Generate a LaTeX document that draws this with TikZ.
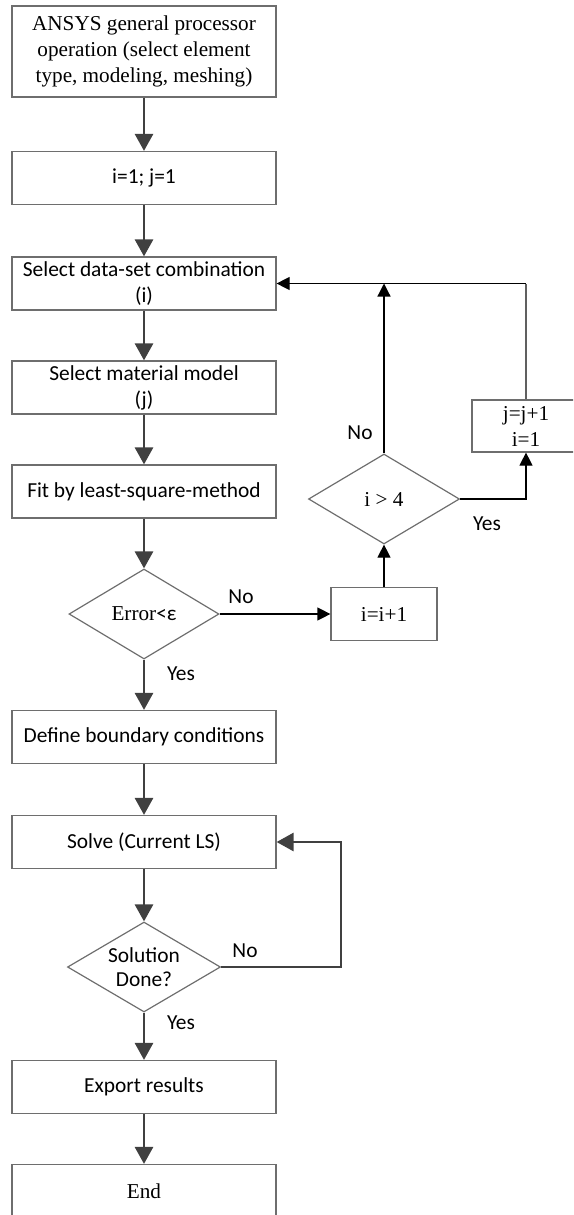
\documentclass[tikz,border=0pt]{standalone}
\usepackage{fontspec}
\setmainfont{Liberation Serif}
\newfontfamily\calibri{Carlito}
\usetikzlibrary{shapes.geometric,arrows.meta}

\definecolor{boxgray}{HTML}{6E6E6E}
\definecolor{flowgray}{HTML}{404040}
\definecolor{linegray}{HTML}{606060}

\begin{document}
\begin{tikzpicture}[x=0.5pt,y=-0.5pt,
  sansfont/.style={font=\calibri\fontsize{10.7}{13}\selectfont},
  seriffont/.style={font=\rmfamily\fontsize{10.6}{13}\selectfont},
  box/.style={draw=boxgray, line width=0.6pt, minimum width=132pt,
    minimum height=26.5pt, inner sep=0pt, align=center, sansfont},
  decision/.style={shape=diamond, draw=boxgray, line width=0.6pt,
    inner sep=0pt, shape aspect=1.667, minimum width=75pt,
    minimum height=45pt, align=center, seriffont},
  lbl/.style={inner sep=0pt, sansfont},
  flow/.style={draw=flowgray, line width=1.4pt,
    -{Triangle[length=8.5pt,width=9pt]}},
  thinflow/.style={draw=black, line width=0.6pt,
    -{Triangle[length=6.5pt,width=6.5pt]}}]

\clip (0,0) rectangle (573,1215);

% main column
\node[box, seriffont, minimum height=45.5pt] (ansys) at (144,51.5)
  {ANSYS general processor\\operation (select element\\type, modeling, meshing)};
\node[box] (init) at (144,178) {i=1; j=1};
\node[box] (sel) at (144,283.5) {Select data-set combination\\(i)};
\node[box] (mat) at (144,387.5) {Select material model\\(j)};
\node[box] (fit) at (144,491.5) {Fit by least-square-method};
\node[decision] (err) at (144,614) {Error{\calibri<ε}};
\node[box] (bc) at (144,737) {Define boundary conditions};
\node[box] (solve) at (144,842) {Solve (Current LS)};
\node[decision, minimum width=76.5pt,
  font=\calibri\fontsize{10.7}{12}\selectfont] (done) at (144,967)
  {Solution\\Done?};
\node[box] (export) at (144,1087) {Export results};
\node[box, seriffont] (end) at (144,1191) {End};

% side loop
\node[box, seriffont, minimum width=53pt] (inc) at (384,614) {i=i+1};
\node[decision, minimum width=75.5pt] (gt) at (384,499) {i > 4};
\node[box, seriffont, minimum width=54pt, minimum height=26pt] (reset)
  at (526,426) {j=j+1\\i=1};

% main flow
\draw[flow] (ansys.south) -- (init.north);
\draw[flow] (init.south) -- (sel.north);
\draw[flow] (sel.south) -- (mat.north);
\draw[flow] (mat.south) -- (fit.north);
\draw[flow] (fit.south) -- (err.north);
\draw[flow] (err.south) -- (bc.north);
\draw[flow] (bc.south) -- (solve.north);
\draw[flow] (solve.south) -- (done.north);
\draw[flow] (done.south) -- (export.north);
\draw[flow] (export.south) -- (end.north);

% repeat solving until done
\coordinate (solvecorner) at (341,842);
\draw[flow] (done.east) -| (solvecorner) -- (solve.east);

% data-set / material iteration
\draw[thinflow] (err.east) -- (inc.west);
\draw[thinflow] (inc.north) -- (gt.south);
\coordinate (merge) at (gt.north |- sel.east);
\draw[thinflow] (gt.north) -- (merge);
\draw[thinflow] (gt.east) -| (reset.south);
\coordinate (resetcorner) at (reset.north |- sel.east);
\draw[draw=linegray, line width=0.6pt] (reset.north) -- (resetcorner);
\draw[thinflow] (resetcorner) -- (sel.east);

% branch labels
\node[lbl] (errno) at (241,597) {No};
\node[lbl] (erryes) at (181,674) {Yes};
\node[lbl] (gtno) at (360,433) {No};
\node[lbl] (gtyes) at (487,524) {Yes};
\node[lbl] (doneno) at (245,951) {No};
\node[lbl] (doneyes) at (181,1023) {Yes};
\end{tikzpicture}
\end{document}
